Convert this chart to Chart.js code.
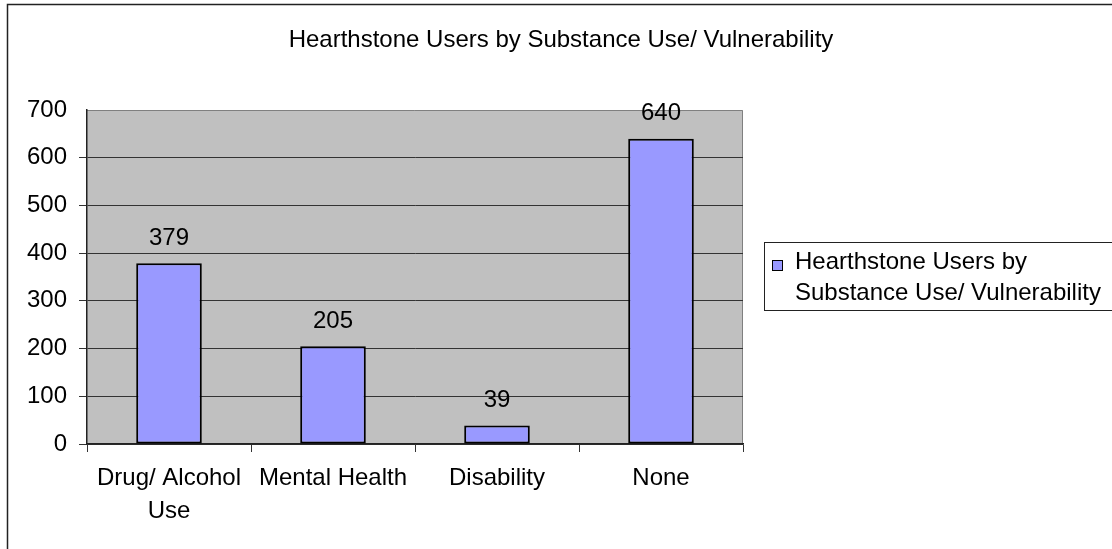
<!DOCTYPE html>
<html>
<head>
<meta charset="utf-8">
<script src="https://cdn.jsdelivr.net/npm/chart.js@4/dist/chart.umd.min.js"></script>
<style>
  html, body { margin: 0; padding: 0; background: #fff; }
  #wrap { width: 1112px; height: 549px; position: relative; }
</style>
</head>
<body>
<div id="wrap"><canvas id="c" width="1112" height="549"></canvas></div>
<script>
const chartTitle = 'Hearthstone Users by Substance Use/ Vulnerability';
const categories = [['Drug/ Alcohol', 'Use'], 'Mental Health', 'Disability', 'None'];
const seriesName = 'Hearthstone Users by Substance Use/ Vulnerability';
const legendLines = ['Hearthstone Users by', 'Substance Use/ Vulnerability'];
const values = [379, 205, 39, 640];
const yTicks = [0, 100, 200, 300, 400, 500, 600, 700];

const FONT = '"Liberation Sans", Arial, sans-serif';
const FS = 24;

const decor = {
  id: 'decor',
  beforeDraw(chart) {
    const ctx = chart.ctx, a = chart.chartArea;
    ctx.save();
    ctx.fillStyle = '#fff';
    ctx.fillRect(0, 0, chart.width, chart.height);
    // outer frame
    ctx.strokeStyle = '#222';
    ctx.lineWidth = 1.5;
    ctx.beginPath();
    ctx.moveTo(7.5, chart.height + 2);
    ctx.lineTo(7.5, 4.5);
    ctx.lineTo(chart.width + 2, 4.5);
    ctx.stroke();
    // plot area
    ctx.fillStyle = '#C0C0C0';
    ctx.fillRect(a.left, a.top, a.right - a.left, a.bottom - a.top);
    ctx.strokeStyle = '#808080';
    ctx.lineWidth = 1;
    ctx.beginPath();
    ctx.moveTo(a.left, a.top + 0.5);
    ctx.lineTo(a.right - 0.5, a.top + 0.5);
    ctx.lineTo(a.right - 0.5, a.bottom);
    ctx.stroke();
    ctx.restore();
  },
  afterDraw(chart) {
    const ctx = chart.ctx;
    ctx.save();
    // title
    ctx.fillStyle = '#000';
    ctx.font = FS + 'px ' + FONT;
    ctx.textAlign = 'center';
    ctx.textBaseline = 'middle';
    ctx.fillText(chartTitle, 561, 40);
    // data labels
    const meta = chart.getDatasetMeta(0);
    meta.data.forEach((bar, i) => {
      ctx.fillText(String(chart.data.datasets[0].data[i]), bar.x, bar.y - 25);
    });
    // legend
    ctx.strokeStyle = '#222';
    ctx.lineWidth = 1;
    ctx.strokeRect(764.5, 242.5, 360, 68);
    ctx.fillStyle = chart.data.datasets[0].backgroundColor;
    ctx.fillRect(772.5, 260.5, 10, 10);
    ctx.strokeStyle = '#000';
    ctx.strokeRect(772.5, 260.5, 10, 10);
    ctx.fillStyle = '#000';
    ctx.textAlign = 'left';
    ctx.fillText(legendLines[0], 795, 262);
    ctx.fillText(legendLines[1], 795, 293);
    ctx.restore();
  }
};

new Chart(document.getElementById('c'), {
  type: 'bar',
  data: {
    labels: categories,
    datasets: [{
      label: seriesName,
      data: values,
      backgroundColor: '#9999FF',
      borderColor: '#000',
      borderWidth: 2,
      borderSkipped: false,
      barPercentage: 0.4,
      categoryPercentage: 1.0
    }]
  },
  options: {
    responsive: false,
    animation: false,
    devicePixelRatio: 1,
    layout: { padding: { left: 0, top: 110, right: 369, bottom: 0 } },
    plugins: {
      legend: { display: false },
      title: { display: false },
      tooltip: { enabled: false }
    },
    scales: {
      x: {
        offset: true,
        grid: {
          display: true,
          offset: true,
          drawOnChartArea: false,
          drawTicks: true,
          tickLength: 8,
          color: '#333'
        },
        border: { display: true, color: '#222', width: 1.5 },
        ticks: {
          color: '#000',
          font: { family: FONT, size: FS, lineHeight: 1.38 },
          padding: 10,
          maxRotation: 0,
          autoSkip: false
        },
        afterFit(scale) { scale.height = 105; }
      },
      y: {
        min: 0,
        max: 700,
        afterBuildTicks(scale) { scale.ticks = yTicks.map(v => ({ value: v })); },
        grid: {
          color: ctx => (ctx.tick && ctx.tick.value === 700 ? 'rgba(0,0,0,0)' : '#333'),
          drawTicks: true,
          tickLength: 8,
          lineWidth: 1
        },
        border: { display: true, color: '#222', width: 1.5 },
        ticks: {
          color: '#000',
          font: { family: FONT, size: FS },
          padding: 12
        },
        afterFit(scale) { scale.width = 87; }
      }
    }
  },
  plugins: [decor]
});
</script>
</body>
</html>
